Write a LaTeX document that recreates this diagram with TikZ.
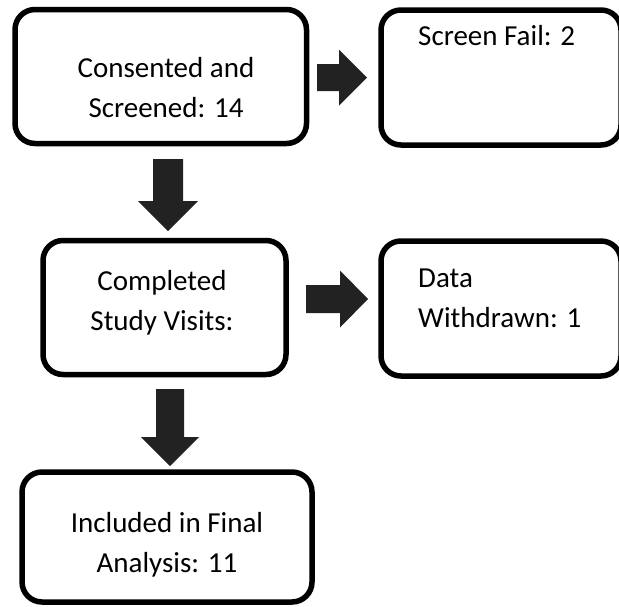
\documentclass[tikz,border=0pt]{standalone}
\usepackage{fontspec}
\setmainfont{Carlito}
\definecolor{arrowfill}{HTML}{222222}
\begin{document}
\begin{tikzpicture}[x=1pt,y=-1pt,
  box/.style={draw=black,line width=5.5pt,rounded corners=20pt,inner sep=0pt,fill=white},
  txt/.style={font=\fontsize{29}{40}\selectfont,inner sep=0pt},
  blockarrow/.style={fill=arrowfill,draw=none}]
\useasboundingbox (0,0) rectangle (619,606);
% boxes
\node[box,minimum width=291.5pt,minimum height=134pt] (b1) at (160.75,76.5) {};
\node[box,minimum width=240pt,minimum height=135pt] (b2) at (501,77.5) {};
\node[box,minimum width=243pt,minimum height=134pt] (b3) at (164.5,307.5) {};
\node[box,minimum width=240pt,minimum height=135pt] (b4) at (501,308.5) {};
\node[box,minimum width=290pt,minimum height=130pt] (b5) at (167,537) {};
% texts (anchor=base is the baseline of the last line)
\node[txt,align=center,anchor=base] (t1) at (166,117) {Consented and\\Screened: 14};
\node[txt,align=left,anchor=base west] (t2) at (418,45) {Screen Fail: 2};
\node[txt,align=center,anchor=base] (t3) at (162,330) {Completed\\Study Visits:};
\node[txt,align=left,anchor=base west] (t4) at (418,327) {Data\\Withdrawn: 1};
\node[txt,align=center,anchor=base] (t5) at (167,572) {Included in Final\\Analysis: 11};
% block arrows (tail centre coordinates)
\coordinate (a1) at (317,77.5);
\coordinate (a2) at (168,159);
\coordinate (a3) at (306,299);
\coordinate (a4) at (170,389);
\fill[blockarrow] (a1) ++(0,-13.5) -- ++(22,0) -- ++(0,-14.5) -- ++(28,28) -- ++(-28,28) -- ++(0,-14.5) -- ++(-22,0) -- cycle;
\fill[blockarrow] (a2) ++(-15,0) -- ++(0,42) -- ++(-15,0) -- ++(30,30) -- ++(30,-30) -- ++(-15,0) -- ++(0,-42) -- cycle;
\fill[blockarrow] (a3) ++(0,-14) -- ++(34,0) -- ++(0,-14.5) -- ++(28,28.5) -- ++(-28,28.5) -- ++(0,-14.5) -- ++(-34,0) -- cycle;
\fill[blockarrow] (a4) ++(-14,0) -- ++(0,48) -- ++(-15,0) -- ++(29,29) -- ++(29,-29) -- ++(-15,0) -- ++(0,-48) -- cycle;
\end{tikzpicture}
\end{document}
